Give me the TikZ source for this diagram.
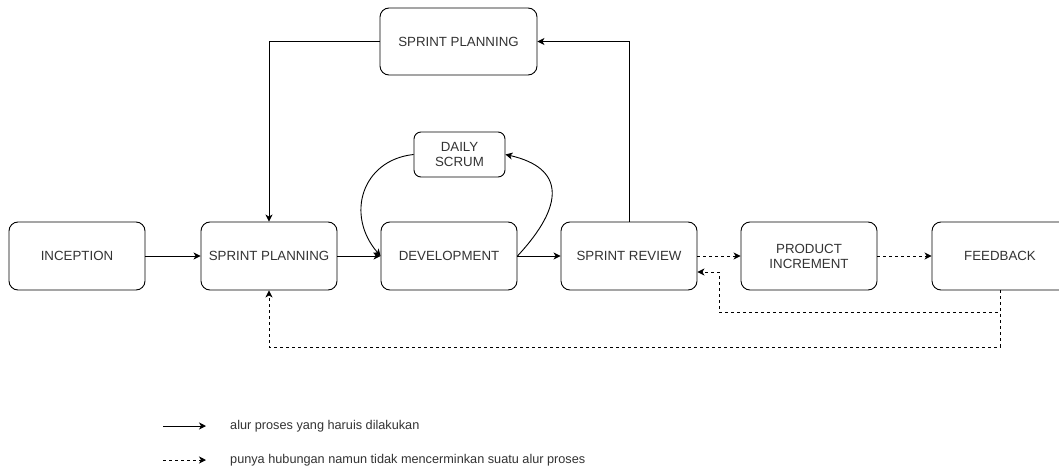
\documentclass[tikz,border=0pt]{standalone}
\usepackage{fontspec}
\setmainfont{Liberation Sans}
\usetikzlibrary{arrows.meta}
\definecolor{txt}{RGB}{51,51,51}
\begin{document}
\begin{tikzpicture}[x=1pt,y=-1pt,
  box/.style={draw=black,line width=0.9pt,rounded corners=9pt,minimum width=136pt,minimum height=68pt,align=center,text=txt,font=\fontsize{13.3}{15}\selectfont,inner sep=0pt},
  solidarrow/.style={draw=black,line width=0.9pt,-{Stealth[length=7pt,width=7pt,inset=2pt]}},
  dasharrow/.style={solidarrow,dash pattern=on 3pt off 3pt},
  legtext/.style={anchor=west,text=txt,font=\fontsize{12.7}{14}\selectfont,inner sep=0pt}]
\useasboundingbox (0,0) rectangle (1059,468);
\clip (0,0) rectangle (1059,468);
\fill[white] (0,0) rectangle (1059,468);
\node[box,minimum width=157pt,minimum height=67pt] (TSP) at (458.5,41.5) {SPRINT PLANNING};
\node[box] (INC) at (77,256) {INCEPTION};
\node[box] (SP) at (269,256) {SPRINT PLANNING};
\node[box] (DEV) at (449,256) {DEVELOPMENT};
\node[box] (SR) at (629,256) {SPRINT REVIEW};
\node[box] (PI) at (809,256) {PRODUCT\\INCREMENT};
\node[box] (FB) at (1000,256) {FEEDBACK};
\node[box,minimum width=91pt,minimum height=45pt,rounded corners=7pt] (DS) at (459.5,154.5) {DAILY\\SCRUM};
% main flow
\draw[solidarrow] (INC) -- (SP);
\draw[solidarrow] (SP) -- (DEV);
\draw[solidarrow] (DEV) -- (SR);
\draw[dasharrow] (SR) -- (PI);
\draw[dasharrow] (PI) -- (FB);
% top loop
\draw[solidarrow] (TSP.west) -| (SP.north);
\draw[solidarrow] (SR.north) |- (TSP.east);
% daily scrum loop
\draw[solidarrow] (DS.west) .. controls (362,160) and (345,215) .. (DEV.west);
\draw[solidarrow] (DEV.east) .. controls (565,205) and (565,168) .. (DS.east);
% feedback returns
\coordinate (c1) at (719,312);
\coordinate (c2) at (269,347);
\draw[dasharrow] (FB.south) |- (c1) |- ([yshift=-16pt]SR.east);
\draw[dasharrow] (FB.south) |- (c2) -- (SP.south);
% legend
\coordinate (l1a) at (163,426);
\coordinate (l1b) at (206,426);
\coordinate (l2a) at (163,460);
\coordinate (l2b) at (206,460);
\draw[solidarrow] (l1a) -- (l1b);
\draw[dasharrow] (l2a) -- (l2b);
\node[legtext] (t1) at (230,426) {alur proses yang haruis dilakukan};
\node[legtext] (t2) at (230,460) {punya hubungan namun tidak mencerminkan suatu alur proses};
\end{tikzpicture}
\end{document}
